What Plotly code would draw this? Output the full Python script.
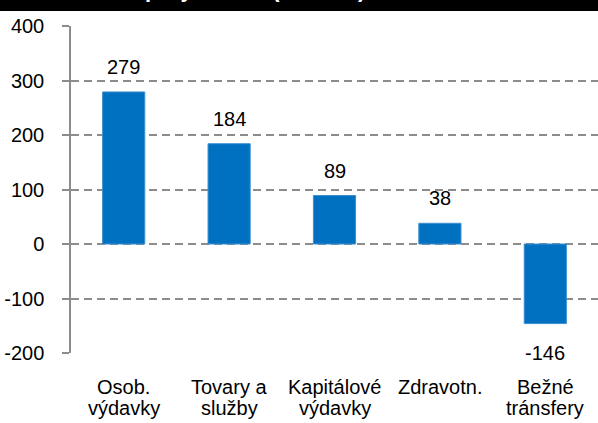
import plotly.graph_objects as go

categories = ["Osob. výdavky", "Tovary a služby", "Kapitálové výdavky", "Zdravotn.", "Bežné tránsfery"]
label_line1 = ["Osob.", "Tovary a", "Kapitálové", "Zdravotn.", "Bežné"]
label_line2 = ["výdavky", "služby", "výdavky", "", "tránsfery"]
values = [279, 184, 89, 38, -146]
y_ticks = [-200, -100, 0, 100, 200, 300, 400]
title_text = "Úspory v 2013 (mil. eur)"

FONT = "Liberation Sans Narrow, Arial Narrow, Liberation Sans, Arial, sans-serif"
FS = 20
W, H = 598, 423
ML, MR, MT, MB = 71, 0, 26, 70
PH = H - MT - MB

def py(px):
    # pixel row -> paper y
    return (H - MB - px) / PH

fig = go.Figure()
fig.add_trace(go.Bar(
    x=categories, y=values,
    marker=dict(color="#0070C0", line=dict(color="#3d8fd0", width=1)),
    width=0.4, hoverinfo="skip",
))

ann = []
for c, v in zip(categories, values):
    ann.append(dict(x=c, y=v, xref="x", yref="y", text=str(v), showarrow=False,
                    yanchor="bottom" if v >= 0 else "top",
                    yshift=12 if v >= 0 else -16,
                    font=dict(family=FONT, size=FS, color="#000000")))
for c, l1, l2 in zip(categories, label_line1, label_line2):
    ann.append(dict(x=c, y=py(387), xref="x", yref="paper", text=l1, showarrow=False,
                    yanchor="middle", font=dict(family=FONT, size=FS, color="#000000")))
    if l2:
        ann.append(dict(x=c, y=py(408), xref="x", yref="paper", text=l2, showarrow=False,
                        yanchor="middle", font=dict(family=FONT, size=FS, color="#000000")))
ann.append(dict(x=0.322, y=py(-10.5), xref="paper", yref="paper", text="<b>" + title_text + "</b>",
                showarrow=False, yanchor="middle", xanchor="center",
                font=dict(family=FONT, size=22, color="#ffffff")))

fig.update_layout(
    width=W, height=H,
    margin=dict(l=ML, r=MR, t=MT, b=MB, pad=0),
    paper_bgcolor="#ffffff", plot_bgcolor="#ffffff",
    showlegend=False,
    annotations=ann,
    shapes=[dict(type="rect", xref="paper", yref="paper", x0=-0.2, x1=1.05,
                 y0=py(11), y1=py(-5), fillcolor="#000000", line=dict(width=0), layer="below")],
    font=dict(family=FONT, size=FS, color="#000000"),
)
fig.update_xaxes(showticklabels=False, showgrid=False, zeroline=False, showline=False, ticks="")
fig.update_yaxes(
    range=[-200, 400], tickvals=y_ticks, ticktext=[str(t) for t in y_ticks],
    showgrid=True, gridcolor="#8c8c8c", gridwidth=1.5, griddash="8px,5px",
    zeroline=False, showline=True, linecolor="#8c8c8c", linewidth=1.5,
    ticks="outside", ticklen=7, tickcolor="#8c8c8c", tickwidth=1.5,
    ticklabelstandoff=14,
    tickfont=dict(family=FONT, size=FS, color="#000000"),
)
fig.write_html("out.html", config={"displayModeBar": False},
               post_script="document.body.style.margin='0';document.body.style.overflow='hidden';")
